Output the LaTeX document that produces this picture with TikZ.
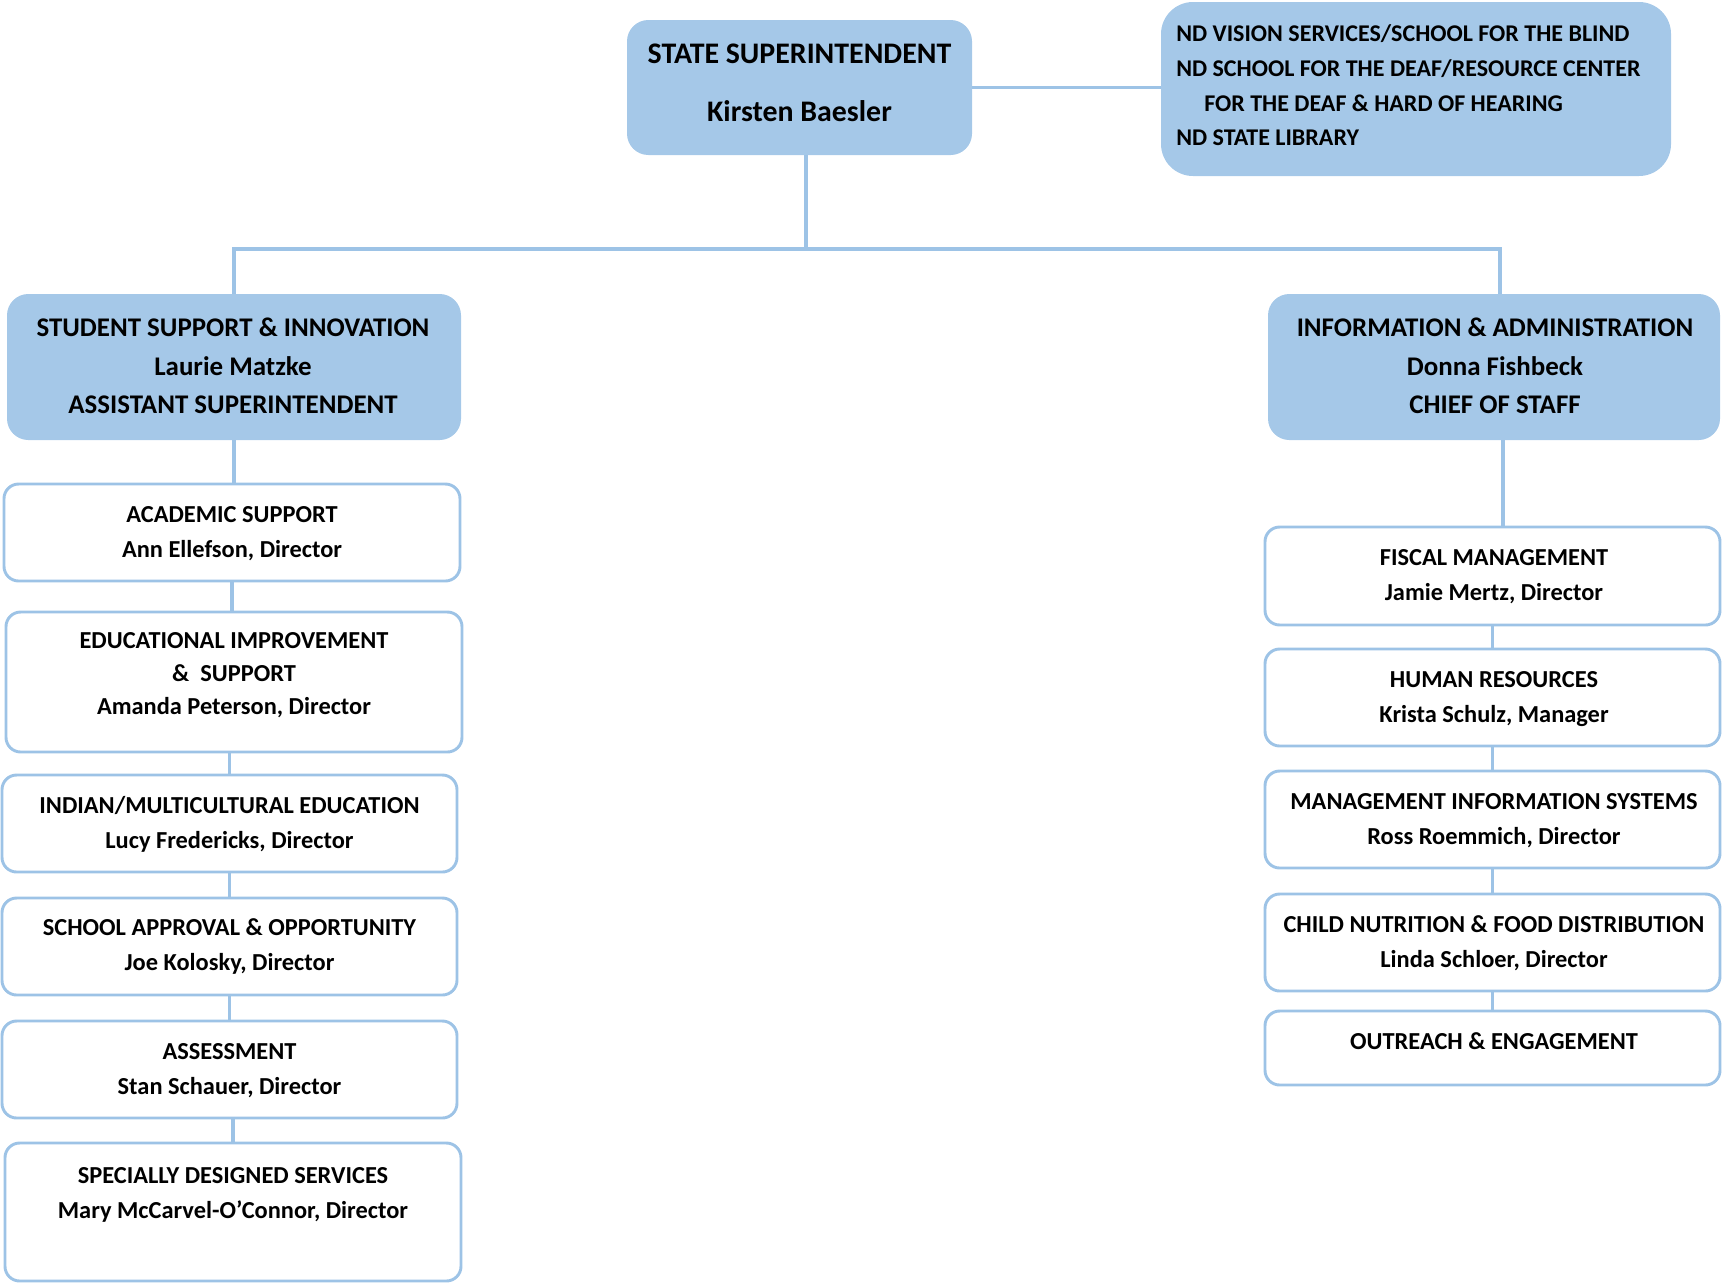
\documentclass[tikz,border=0pt]{standalone}
\usepackage{fontspec}
\setmainfont{Carlito}
\definecolor{boxblue}{RGB}{165,200,232}
\definecolor{lineblue}{RGB}{157,195,230}
\begin{document}
\begin{tikzpicture}[x=0.75pt,y=-0.75pt,
  sz/.style 2 args={minimum width=#1*0.75pt, minimum height=#2*0.75pt},
  bluebox/.style={fill=boxblue, draw=none, rounded corners=16pt, inner sep=0pt},
  whitebox/.style={fill=white, draw=lineblue, line width=2.2pt, rounded corners=11pt, inner sep=0pt},
  link/.style={draw=lineblue, line width=2.3pt},
  toptext/.style={align=center, inner sep=0pt, font=\fontsize{22.4}{43.5}\selectfont\bfseries},
  libtext/.style={align=left, inner sep=0pt, anchor=west, font=\fontsize{18}{26}\selectfont\bfseries},
  btext/.style={align=center, inner sep=0pt, font=\fontsize{20.2}{29}\selectfont\bfseries},
  wtext/.style={align=center, inner sep=0pt, font=\fontsize{18.3}{26.25}\selectfont\bfseries},
  etext/.style={align=center, inner sep=0pt, font=\fontsize{18.3}{24.75}\selectfont\bfseries}]
\useasboundingbox (0,0) rectangle (1722,1283);

% top level
\node[bluebox, sz={345}{135}] (sup) at (799.5,87.5) {};
\node[toptext] (sup-t) at (799.5,82.5) {STATE SUPERINTENDENT\\Kirsten Baesler};
\node[bluebox, rounded corners=24pt, sz={510}{174}] (lib) at (1416,89) {};
\node[libtext] (lib-t) at (1176,85.5) {ND VISION SERVICES/SCHOOL FOR THE BLIND\\
  ND SCHOOL FOR THE DEAF/RESOURCE CENTER\\
  \hspace*{21pt}FOR THE DEAF \& HARD OF HEARING\\
  ND STATE LIBRARY};

% divisions
\node[bluebox, sz={454}{146}] (ssi) at (234,367) {};
\node[btext] (ssi-t) at (233,366) {STUDENT SUPPORT \& INNOVATION\\Laurie Matzke\\ASSISTANT SUPERINTENDENT};
\node[bluebox, sz={452}{146}] (ia) at (1494,367) {};
\node[btext] (ia-t) at (1495,366) {INFORMATION \& ADMINISTRATION\\Donna Fishbeck\\CHIEF OF STAFF};

% left column
\node[whitebox, sz={456}{97}] (acad) at (232,532.5) {};
\node[wtext] (acad-t) at (232,533.5) {ACADEMIC SUPPORT\\Ann Ellefson, Director};
\node[whitebox, sz={456}{140}] (edu) at (234,682) {};
\node[etext] (edu-t) at (234,675) {EDUCATIONAL IMPROVEMENT\\\&\ \ SUPPORT\\Amanda Peterson, Director};
\node[whitebox, sz={455}{97}] (ind) at (229.5,823.5) {};
\node[wtext] (ind-t) at (229.5,824.5) {INDIAN/MULTICULTURAL EDUCATION\\Lucy Fredericks, Director};
\node[whitebox, sz={455}{97}] (sch) at (229.5,946.5) {};
\node[wtext] (sch-t) at (229.5,946.5) {SCHOOL APPROVAL \& OPPORTUNITY\\Joe Kolosky, Director};
\node[whitebox, sz={455}{97}] (ass) at (229.5,1069.5) {};
\node[wtext] (ass-t) at (229.5,1070.5) {ASSESSMENT\\Stan Schauer, Director};
\node[whitebox, sz={456}{138}] (spec) at (233,1212) {};
\node[wtext] (spec-t) at (233,1194.5) {SPECIALLY DESIGNED SERVICES\\Mary McCarvel-O’Connor, Director};

% right column
\node[whitebox, sz={455}{98}] (fis) at (1492.5,576) {};
\node[wtext] (fis-t) at (1494,576.5) {FISCAL MANAGEMENT\\Jamie Mertz, Director};
\node[whitebox, sz={455}{97}] (hr) at (1492.5,697.5) {};
\node[wtext] (hr-t) at (1494,699) {HUMAN RESOURCES\\Krista Schulz, Manager};
\node[whitebox, sz={455}{97}] (mis) at (1492.5,819.5) {};
\node[wtext] (mis-t) at (1494,821) {MANAGEMENT INFORMATION SYSTEMS\\Ross Roemmich, Director};
\node[whitebox, sz={455}{97}] (cn) at (1492.5,942.5) {};
\node[wtext] (cn-t) at (1494,943) {CHILD NUTRITION \& FOOD DISTRIBUTION\\Linda Schloer, Director};
\node[whitebox, sz={455}{74}] (out) at (1492.5,1048) {};
\node[wtext] (out-t) at (1494,1041) {OUTREACH \& ENGAGEMENT};

% connectors
\coordinate (trunk) at (806,249);
\draw[link] (sup.east) -- (sup.east -| lib.west);
\draw[link] (sup.south -| trunk) -- (trunk);
\draw[link] (ssi.north) |- (trunk) -| (ia.north -| 1500,0);
\draw[link] (ssi.south) -- (ssi.south |- acad.north);
\draw[link] (acad.south) -- (acad.south |- edu.north);
\draw[link] (edu.south -| ind.south) -- (ind.north);
\draw[link] (ind.south) -- (sch.north);
\draw[link] (sch.south) -- (ass.north);
\draw[link] (ass.south -| spec.north) -- (spec.north);
\draw[link] (ia.south -| 1503,0) -- (fis.north -| 1503,0);
\draw[link] (fis.south) -- (hr.north);
\draw[link] (hr.south) -- (mis.north);
\draw[link] (mis.south) -- (cn.north);
\draw[link] (cn.south) -- (out.north);
\end{tikzpicture}
\end{document}
